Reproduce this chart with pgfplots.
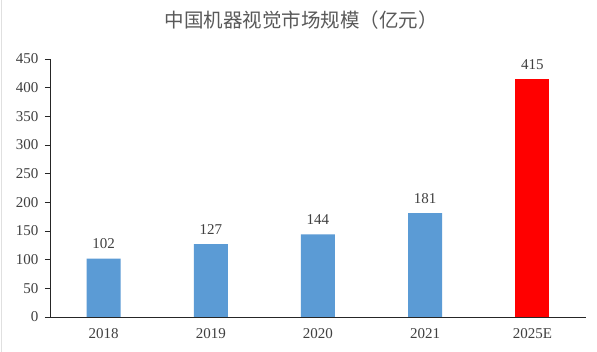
\documentclass[border=0pt]{standalone}
\usepackage{pgfplots}
\pgfplotsset{compat=1.18}
\usepackage{fontspec}
\setmainfont{Liberation Serif}
\newfontfamily\cjk{Noto Sans CJK SC}
\definecolor{barblue}{HTML}{5B9BD5}
\definecolor{txt}{HTML}{404040}
\definecolor{ttl}{HTML}{595959}
\begin{document}
\begin{tikzpicture}
\useasboundingbox (-50pt,-35pt) rectangle (547pt,317pt);
\fill[white] (-50pt,-35pt) rectangle (547pt,317pt);
\draw[black!12, line width=1.2pt] (-48.6pt,-35pt) -- (-48.6pt,317pt);
\begin{axis}[
  at={(0pt,0pt)}, anchor=south west,
  scale only axis, width=536pt, height=258pt,
  xmin=-0.5, xmax=4.5, ymin=0, ymax=450,
  ytick={0,50,...,450},
  xtick={0,1,2,3,4},
  xticklabels={2018,2019,2020,2021,2025E},
  extra x ticks={-0.5,0.5,1.5,2.5,3.5,4.5},
  extra x tick labels={},
  extra x tick style={major tick length=5pt, tick style={black, line width=0.9pt}},
  axis x line*=bottom, axis y line*=left,
  axis line style={black!85, line width=0.9pt},
  x axis line style={-}, y axis line style={-},
  tick align=outside,
  ytick style={black!85, line width=0.9pt},
  major tick length=5pt,
  xtick style={draw=none},
  tick label style={font=\fontsize{15}{17}\selectfont, text=txt},
  /pgf/number format/assume math mode=true,
  yticklabel style={xshift=-3pt},
  xticklabel style={yshift=-3pt},
  ybar, bar width=34pt,
  nodes near coords,
  every node near coord/.append style={font=\fontsize{15}{17}\selectfont, text=txt, yshift=6pt},
  clip=false,
]
\addplot[fill=barblue, draw=none, bar shift=0pt] coordinates {(0,102) (1,127) (2,144) (3,181)};
\addplot[fill=red, draw=none, bar shift=0pt] coordinates {(4,415)};
\end{axis}
\node[text=ttl, font=\cjk\fontsize{19.5}{22}\selectfont] at (251pt,297pt) {中国机器视觉市场规模（亿元）};
\end{tikzpicture}
\end{document}
